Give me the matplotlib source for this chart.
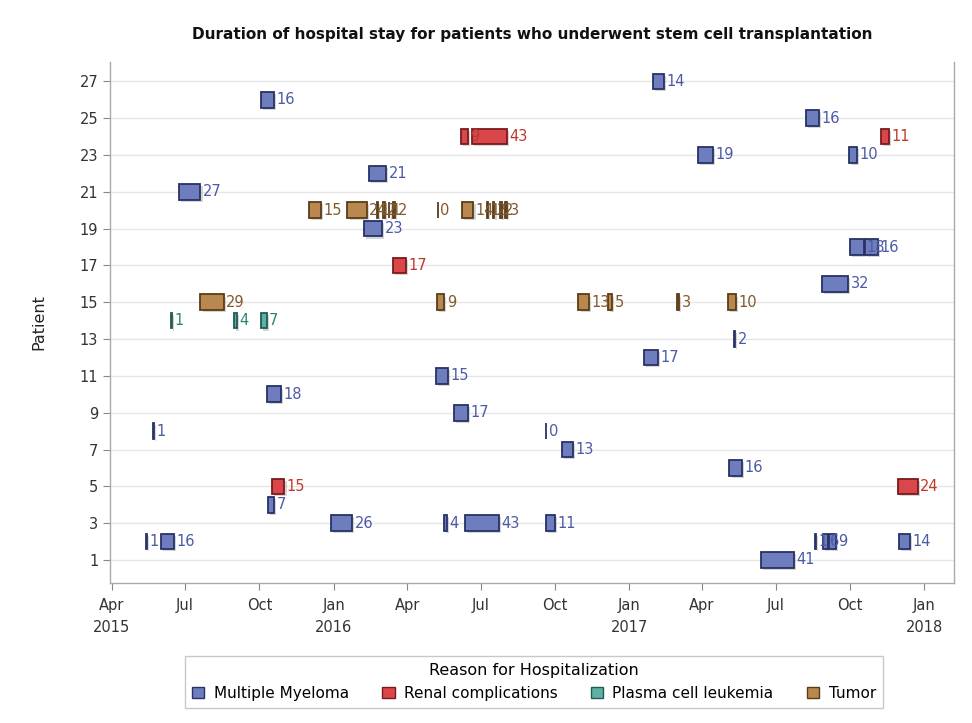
import matplotlib
matplotlib.use("Agg")
import matplotlib.pyplot as plt
import matplotlib.dates as mdates
import matplotlib.patheffects as pe
from matplotlib.patches import Patch
import numpy as np
import pandas as pd

# ---- data ----
patient = [27, 26, 25, 24, 24, 24, 23, 23, 22, 21,
           20, 20, 20, 20, 20, 20, 20, 20, 20, 20, 20, 20,
           19, 18, 18, 17, 16,
           15, 15, 15, 15, 15, 15,
           14, 14, 14, 13, 12, 11, 10, 9, 8, 8, 7, 6, 5, 5, 4,
           3, 3, 3, 3, 2, 2, 2, 2, 2, 2, 1]
start = ["2017-01-30", "2015-10-03", "2017-08-08", "2016-06-06", "2016-06-20", "2017-11-08",
         "2017-03-27", "2017-09-30", "2016-02-14", "2015-06-23",
         "2015-12-01", "2016-01-18", "2016-02-24", "2016-03-02", "2016-03-09", "2016-03-15",
         "2016-05-09", "2016-06-08", "2016-07-09", "2016-07-16", "2016-07-25", "2016-07-31",
         "2016-02-07", "2017-10-01", "2017-10-20", "2016-03-14", "2017-08-28",
         "2015-07-20", "2016-05-08", "2016-10-30", "2016-12-06", "2017-03-01", "2017-05-03",
         "2015-06-14", "2015-08-30", "2015-10-03", "2017-05-10", "2017-01-19", "2016-05-07",
         "2015-10-10", "2016-05-29", "2015-05-22", "2016-09-20", "2016-10-10", "2017-05-05",
         "2015-10-17", "2017-11-30", "2015-10-12",
         "2015-12-29", "2016-05-16", "2016-06-11", "2016-09-20",
         "2015-05-14", "2015-06-01", "2017-08-19", "2017-08-29", "2017-09-05", "2017-12-01",
         "2017-06-13"]
stay_days = [14, 16, 16, 9, 43, 11, 19, 10, 21, 27,
             15, 24, 1, 2, 1, 2, 0, 14, 1, 2, 2, 3,
             23, 18, 16, 17, 32,
             29, 9, 13, 5, 3, 10,
             1, 4, 7, 2, 17, 15, 18, 17, 1, 0, 13, 16, 15, 24, 7,
             26, 4, 43, 11, 1, 16, 1, 6, 9, 14, 41]
reason = ["MM", "MM", "MM", "RC", "RC", "RC", "MM", "MM", "MM", "MM",
          "TU", "TU", "TU", "TU", "TU", "TU", "TU", "TU", "TU", "TU", "TU", "TU",
          "MM", "MM", "MM", "RC", "MM",
          "TU", "TU", "TU", "TU", "TU", "TU",
          "PCL", "PCL", "PCL", "MM", "MM", "MM", "MM", "MM", "MM", "MM", "MM", "MM", "RC", "RC", "MM",
          "MM", "MM", "MM", "MM", "MM", "MM", "MM", "MM", "MM", "MM", "MM"]

reason_names = {"MM": "Multiple Myeloma", "RC": "Renal complications",
                "PCL": "Plasma cell leukemia", "TU": "Tumor"}
reason_order = ["MM", "RC", "PCL", "TU"]
fill_colors = {"MM": "#6E7DBE", "RC": "#D9474B", "PCL": "#5FB0A3", "TU": "#B8884F"}
edge_colors = {"MM": "#273266", "RC": "#7A1A1C", "PCL": "#1F5C54", "TU": "#5A3C17"}
text_colors = {"MM": "#4B5BA6", "RC": "#C0392B", "PCL": "#2A8575", "TU": "#7F5A2C"}

x_tick_dates = ["2015-04-01", "2015-07-01", "2015-10-01", "2016-01-01", "2016-04-01",
                "2016-07-01", "2016-10-01", "2017-01-01", "2017-04-01", "2017-07-01",
                "2017-10-01", "2018-01-01"]
x_tick_labels = ["Apr\n2015", "Jul", "Oct", "Jan\n2016", "Apr", "Jul", "Oct",
                 "Jan\n2017", "Apr", "Jul", "Oct", "Jan\n2018"]
y_ticks = list(range(1, 28, 2))

# ---- figure ----
fig = plt.figure(figsize=(9.72, 7.23), dpi=100)
ax = fig.add_axes([110 / 972, 1 - 583 / 723, (954 - 110) / 972, (583 - 62) / 723])

starts = mdates.date2num(pd.to_datetime(start))
shadow = [pe.SimplePatchShadow(offset=(1.5, -1.5), shadow_rgbFace="#888888", alpha=0.35), pe.Normal()]

for p, s, d, r in zip(patient, starts, stay_days, reason):
    ax.barh(p, d, left=s, height=0.85, color=fill_colors[r], edgecolor=edge_colors[r],
            linewidth=1.3, zorder=3, path_effects=shadow)
    ax.text(s + d + 3, p, str(d), va="center", ha="left", fontsize=10.5,
            color=text_colors[r], zorder=4)

ax.set_xlim(mdates.date2num(pd.Timestamp("2015-03-30")), mdates.date2num(pd.Timestamp("2018-02-07")))
ax.set_ylim(-0.25, 28.05)
ax.set_xticks(mdates.date2num(pd.to_datetime(x_tick_dates)))
ax.set_xticklabels(x_tick_labels, fontsize=10.5, color="#333333", linespacing=1.6)
ax.set_yticks(y_ticks)
ax.set_yticklabels([str(v) for v in y_ticks], fontsize=10.5, color="#333333")
ax.yaxis.grid(True, color="#E6E6E6", linewidth=1.0, zorder=0)
ax.set_axisbelow(True)
for sp in ax.spines.values():
    sp.set_color("#AAAAAA")
    sp.set_linewidth(1.0)
ax.spines["top"].set_visible(False)
ax.tick_params(axis="both", color="#888888", length=5)
ax.tick_params(axis="x", pad=6)
ax.set_ylabel("Patient", fontsize=11.5, color="#222222", labelpad=24)

fig.text(532 / 972, 1 - 35 / 723,
         "Duration of hospital stay for patients who underwent stem cell transplantation",
         ha="center", va="center", fontsize=11, fontweight="bold", color="#111111")

handles = [Patch(facecolor=fill_colors[k], edgecolor=edge_colors[k], label=reason_names[k])
           for k in reason_order]
leg = fig.legend(handles=handles, loc="center", bbox_to_anchor=(534 / 972, 1 - 682 / 723),
                 ncol=4, frameon=True, fontsize=11, title="Reason for Hospitalization",
                 title_fontsize=11.5, handlelength=0.8, handleheight=0.8, handletextpad=0.6,
                 columnspacing=2.2, borderpad=0.45, borderaxespad=0, fancybox=False)
leg.get_frame().set_edgecolor("#BBBBBB")
leg.get_frame().set_linewidth(1.0)

fig.savefig("out.png", dpi=100)
